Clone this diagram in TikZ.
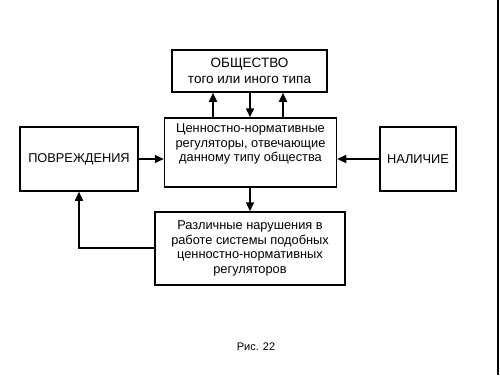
\documentclass[tikz,border=0pt]{standalone}
\usepackage{fontspec}
\setmainfont{Liberation Sans}
\usetikzlibrary{arrows.meta}
\begin{document}
\begin{tikzpicture}[x=1pt,y=-1pt,
  box/.style={draw, line width=1.5pt, inner sep=0pt, align=center,
    font=\fontsize{12.8}{14.5}\selectfont},
  conn/.style={line width=1.5pt, -{Triangle[length=9pt,width=8pt]}},
  plain/.style={line width=1.5pt}]
\useasboundingbox (0,0) rectangle (500,375);
\fill[white] (0,0) rectangle (500,375);
% nodes
\node[box, minimum width=155pt, minimum height=42pt,
  font=\fontsize{13.5}{16.5}\selectfont] (soc) at (249.5,71)
  {ОБЩЕСТВО\\того или иного типа};
\node[box, minimum width=172pt, minimum height=69pt] (reg) at (250.5,152.5)
  {Ценностно-нормативные\\регуляторы, отвечающие\\данному типу общества\\ \strut};
\node[box, minimum width=118pt, minimum height=64pt] (dmg) at (79,159)
  {ПОВРЕЖДЕНИЯ};
\node[box, minimum width=76pt, minimum height=64pt] (pres) at (418,159)
  {НАЛИЧИЕ};
\node[box, minimum width=190pt, minimum height=73pt] (viol) at (250,248.5)
  {Различные нарушения в\\работе системы подобных\\ценностно-нормативных\\регуляторов};
\node[font=\fontsize{11}{12}\selectfont] (cap) at (256,347) {Рис. 22};
% connectors
\draw[conn] (reg.north -| 213,0) -- (soc.south -| 213,0);
\draw[conn] (soc.south -| 250,0) -- (reg.north -| 250,0);
\draw[conn] (reg.north -| 283,0) -- (soc.south -| 283,0);
\draw[conn] (dmg.east) -- (reg.west |- dmg.east);
\draw[conn] (pres.west) -- (reg.east |- pres.west);
\draw[conn] (reg.south -| viol.north) -- (viol.north);
\coordinate (bend) at (79,248);
\draw[conn] (viol.west |- bend) -- (bend) -- (dmg.south);
% slide edge
\draw[line width=1.5pt] (498,0) -- (498,375);
\end{tikzpicture}
\end{document}
